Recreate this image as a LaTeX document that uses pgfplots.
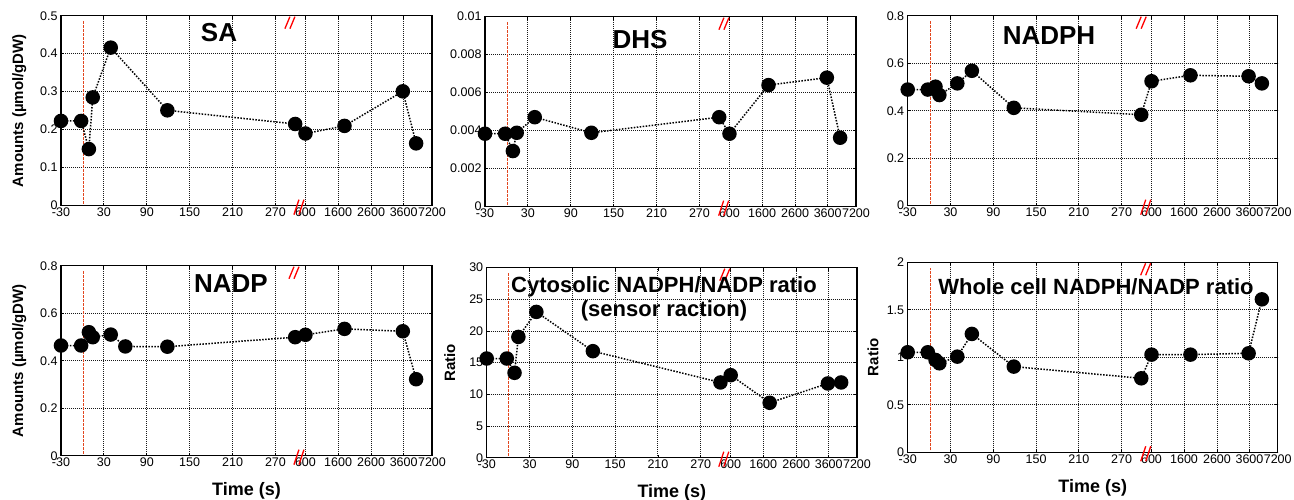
\documentclass[border=0pt]{standalone}
\usepackage{fontspec}
\setmainfont{Liberation Sans}
\usepackage{pgfplots}
\pgfplotsset{compat=1.18}
\definecolor{redl}{HTML}{E2471F}
% x axis is a broken time axis: internal position u, ticks at -30,30,...,270 | 600,1600,2600,3600,7200
\pgfplotsset{
  panel/.style={
    scale only axis, width=371pt, height=190pt, anchor=south west,
    xmin=0, xmax=8.65,
    xtick={0,1,2,3,4,5,5.70,6.46,7.23,7.99,8.65},
    xticklabels={-30,30,90,150,210,270,600,1600,2600,3600,7200},
    grid=major,
    major grid style={black!90, line width=0.9pt, dash pattern=on 1pt off 1pt},
    axis line style={line width=1.5pt},
    tick style={black, line width=0.8pt},
    major tick length=3pt,
    tick align=inside,
    scaled y ticks=false,
    every tick label/.append style={font=\fontsize{12.5}{14}\selectfont},
    xticklabel style={inner sep=1pt, yshift=-1pt},
    clip=false,
    xlabel style={font=\bfseries\fontsize{18}{20}\selectfont, at={(axis description cs:0.5,0)}, anchor=base, yshift=-40pt},
    ylabel style={font=\bfseries\fontsize{15}{17}\selectfont, anchor=base},
  },
  data/.style={black, line width=1.5pt, dash pattern=on 1.5pt off 1.5pt, mark=*, mark size=6.5pt, mark options={solid, fill=black, draw=black}},
}
\tikzset{brk/.style={red, line width=1.3pt}, redline/.style={redl, line width=0.8pt, dash pattern=on 3pt off 1pt}}
\newcommand{\brktop}[1]{\draw[brk] ([xshift=-5pt,yshift=-13pt]rel axis cs:#1,1) -- ([xshift=0pt,yshift=-1pt]rel axis cs:#1,1); \draw[brk] ([xshift=0pt,yshift=-13pt]rel axis cs:#1,1) -- ([xshift=5pt,yshift=-1pt]rel axis cs:#1,1);}
\newcommand{\brkbot}[1]{\draw[brk] ([xshift=-6pt,yshift=-9pt]rel axis cs:#1,0) -- ([xshift=-1pt,yshift=6pt]rel axis cs:#1,0); \draw[brk] ([xshift=-1pt,yshift=-9pt]rel axis cs:#1,0) -- ([xshift=4pt,yshift=6pt]rel axis cs:#1,0);}
\newcommand{\redv}[1]{\draw[redline] (rel axis cs:#1,0.01) -- (rel axis cs:#1,0.97);}
\begin{document}
\begin{tikzpicture}
\path[use as bounding box] (0,0) rectangle (1294pt,500pt);
% SA
\begin{axis}[panel, at={(61pt,294.3pt)}, ymin=0, ymax=0.5,
  ytick={0,0.1,0.2,0.3,0.4,0.5}, yticklabels={0,0.1,0.2,0.3,0.4,0.5},
  ylabel={Amounts (µmol/gDW)}, ylabel style={at={(axis description cs:-0.102,0.5)}}]
\redv{0.0613}
\addplot[data] coordinates {(0,0.223) (0.47,0.223) (0.65,0.149) (0.74,0.285) (1.16,0.416) (2.48,0.251) (5.46,0.215) (5.70,0.190) (6.61,0.210) (7.97,0.301) (8.28,0.164)};
\brktop{0.617}\brkbot{0.644}
\end{axis}
% DHS
\begin{axis}[panel, at={(485pt,293.3pt)}, ymin=0, ymax=0.01,
  ytick={0,0.002,0.004,0.006,0.008,0.01}, yticklabels={0,0.002,0.004,0.006,0.008,0.01}]
\redv{0.0613}
\addplot[data] coordinates {(0,0.00384) (0.47,0.00384) (0.65,0.00293) (0.74,0.00389) (1.16,0.00471) (2.48,0.00389) (5.46,0.00471) (5.70,0.00384) (6.61,0.00640) (7.97,0.00679) (8.28,0.00363)};
\brktop{0.644}\brkbot{0.646}
\end{axis}
% NADPH
\begin{axis}[panel, at={(907.7pt,294.3pt)}, width=370pt, ymin=0, ymax=0.8,
  ytick={0,0.2,0.4,0.6,0.8}, yticklabels={0,0.2,0.4,0.6,0.8}]
\redv{0.0613}
\addplot[data] coordinates {(0,0.489) (0.47,0.489) (0.65,0.501) (0.74,0.466) (1.16,0.515) (1.5,0.568) (2.48,0.412) (5.46,0.383) (5.70,0.524) (6.61,0.549) (7.97,0.545) (8.28,0.515)};
\brktop{0.631}\brkbot{0.646}
\end{axis}
% NADP
\begin{axis}[panel, at={(61pt,44.3pt)}, ymin=0, ymax=0.8,
  ytick={0,0.2,0.4,0.6,0.8}, yticklabels={0,0.2,0.4,0.6,0.8},
  xlabel={Time (s)},
  ylabel={Amounts (µmol/gDW)}, ylabel style={at={(axis description cs:-0.102,0.5)}}]
\redv{0.0613}
\addplot[data] coordinates {(0,0.464) (0.47,0.464) (0.65,0.520) (0.74,0.499) (1.16,0.510) (1.5,0.460) (2.48,0.459) (5.46,0.499) (5.70,0.509) (6.61,0.534) (7.97,0.524) (8.28,0.322)};
\brktop{0.628}\brkbot{0.644}
\end{axis}
% Cytosolic ratio
\begin{axis}[panel, at={(486.7pt,42.3pt)}, width=370.3pt, ymin=0, ymax=30,
  ytick={0,5,10,15,20,25,30}, yticklabels={0,5,10,15,20,25,30},
  xlabel={Time (s)},
  ylabel={Ratio}, ylabel style={at={(axis description cs:-0.0856,0.5)}}]
\redv{0.058}
\addplot[data] coordinates {(0,15.66) (0.47,15.66) (0.65,13.40) (0.74,19.07) (1.16,23.02) (2.48,16.82) (5.46,11.88) (5.70,13.03) (6.61,8.67) (7.97,11.72) (8.28,11.88)};
\brktop{0.643}\brkbot{0.643}
\end{axis}
% Whole cell ratio
\begin{axis}[panel, at={(907.7pt,47.7pt)}, width=370pt, ymin=0, ymax=2,
  ytick={0,0.5,1,1.5,2}, yticklabels={0,0.5,1,1.5,2},
  xlabel={Time (s)},
  ylabel={Ratio}, ylabel style={at={(axis description cs:-0.0795,0.5)}}]
\redv{0.0613}
\addplot[data] coordinates {(0,1.053) (0.47,1.053) (0.65,0.972) (0.74,0.937) (1.16,1.007) (1.5,1.246) (2.48,0.902) (5.46,0.779) (5.70,1.028) (6.61,1.028) (7.97,1.042) (8.28,1.61)};
\brktop{0.643}\brkbot{0.646}
\end{axis}
% titles
\begin{scope}[every node/.style={anchor=base, inner sep=0pt}]
\node[font=\bfseries\fontsize{26}{30}\selectfont] at (219pt,458.3pt) {SA};
\node[font=\bfseries\fontsize{26}{30}\selectfont] at (640pt,451.7pt) {DHS};
\node[font=\bfseries\fontsize{26}{30}\selectfont] at (1049pt,455pt) {NADPH};
\node[font=\bfseries\fontsize{26}{30}\selectfont] at (231pt,207.3pt) {NADP};
\node[font=\bfseries\fontsize{22}{26}\selectfont] at (664pt,207.3pt) {Cytosolic NADPH/NADP ratio};
\node[font=\bfseries\fontsize{22}{26}\selectfont] at (664pt,183pt) {(sensor raction)};
\node[font=\bfseries\fontsize{22}{26}\selectfont] at (1096pt,205pt) {Whole cell NADPH/NADP ratio};
\end{scope}
\end{tikzpicture}
\end{document}
